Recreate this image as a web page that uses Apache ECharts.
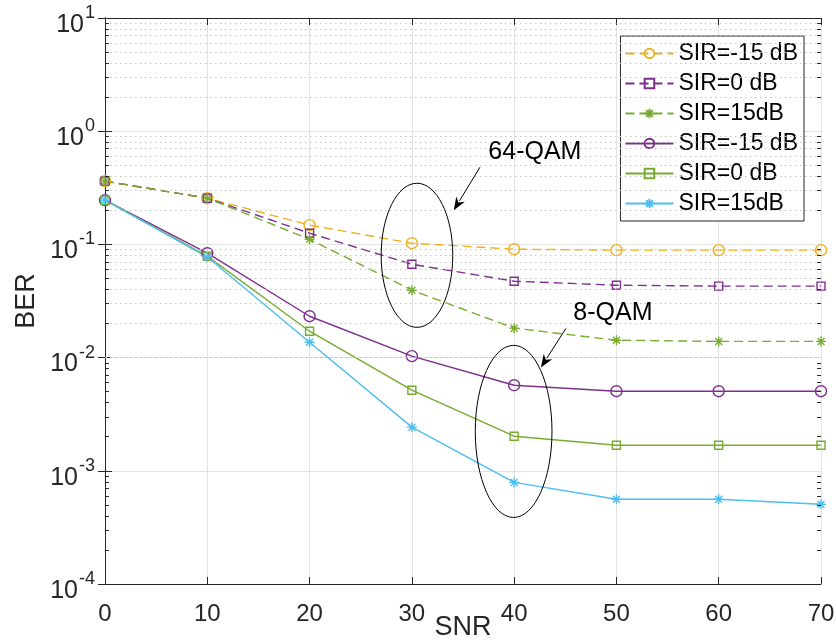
<!DOCTYPE html>
<html>
<head>
<meta charset="utf-8">
<script src="https://cdn.jsdelivr.net/npm/echarts@6/dist/echarts.min.js"></script>
<style>
  html, body { margin: 0; padding: 0; background: #fff; }
  #chart { width: 836px; height: 644px; }
</style>
</head>
<body>
<div id="chart"></div>
<script>
// SNR values (x axis)
var snr = [0, 10, 20, 30, 40, 50, 60, 70];

// 64-QAM (dashed)
var qam64_sirm15 = [0.362, 0.256, 0.148, 0.1025, 0.0907, 0.089, 0.089, 0.089];
var qam64_sir0   = [0.362, 0.256, 0.1256, 0.0668, 0.0473, 0.0436, 0.0428, 0.0428];
var qam64_sir15  = [0.362, 0.256, 0.111, 0.0394, 0.0182, 0.01425, 0.0139, 0.0139];

// 8-QAM (solid)
var qam8_sirm15 = [0.2457, 0.0836, 0.0232, 0.0103, 0.0057, 0.00505, 0.00505, 0.00505];
var qam8_sir0   = [0.2457, 0.0787, 0.0171, 0.00515, 0.00202, 0.00168, 0.00168, 0.00168];
var qam8_sir15  = [0.2457, 0.0773, 0.01368, 0.00243, 0.00079, 0.00056, 0.00056, 0.000507];

var legendNames = ['SIR=-15 dB', 'SIR=0 dB', 'SIR=15dB', 'SIR=-15 dB\u200b', 'SIR=0 dB\u200b', 'SIR=15dB\u200b'];

// annotation positions in data coordinates
var ellipses = [
  { x: [27.0, 34.0], y: [0.0185, 0.347] },
  { x: [36.2, 43.7], y: [0.000387, 0.01283] }
];
var arrows = [
  { from: [36.66, 0.481], to: [34.1, 0.2005] },
  { from: [45.06, 0.0181], to: [42.62, 0.00819] }
];
var notes = [
  { text: '64-QAM', at: [42.03, 0.652] },
  { text: '8-QAM', at: [49.66, 0.02472] }
];

var ORANGE = '#EDB120', PURPLE = '#7E2F8E', GREEN = '#77AC30', CYAN = '#4DBEEE';
var starPath = 'path://M0,5L10,5M5,0L5,10M1.5,1.5L8.5,8.5M8.5,1.5L1.5,8.5';
var FONT = '"Liberation Sans", Arial, sans-serif';

function pairs(ys) {
  return snr.map(function (x, i) { return [x, ys[i]]; });
}

function mkSeries(name, ys, color, symbol, size, dashed) {
  return {
    name: name,
    type: 'line',
    data: pairs(ys),
    symbol: symbol,
    symbolSize: size,
    showSymbol: true,
    lineStyle: { color: color, width: 1.4, type: dashed ? [9, 5] : 'solid' },
    itemStyle: { color: symbol === starPath ? color : 'rgba(0,0,0,0)', borderColor: color, borderWidth: 1.4 },
    emphasis: { disabled: true },
    animation: false
  };
}

// minor (2..9) grid values
var minorVals = [];
for (var d = -4; d <= 0; d++) {
  for (var k = 2; k <= 9; k++) minorVals.push(k * Math.pow(10, d));
}
var minorMarks = [];
minorVals.forEach(function (v) {
  minorMarks.push({ yAxis: v, lineStyle: { type: [1.5, 3.5], color: '#c4c4c4', width: 1 } });
});
var minorTicks = [];
minorVals.forEach(function (v) {
  minorTicks.push([{ coord: [0, v] }, { coord: [0.38, v] }]);
  minorTicks.push([{ coord: [69.62, v] }, { coord: [70, v] }]);
});

var chart = echarts.init(document.getElementById('chart'));

var supFmt = function (v) {
  var e = Math.round(Math.log10(v));
  return '{b|10}{s|' + e + '}';
};

var option = {
  backgroundColor: '#fff',
  animation: false,
  grid: { left: 105, right: 15, top: 18, bottom: 60, containLabel: false, outerBoundsMode: 'none' },
  legend: {
    data: legendNames,
    orient: 'vertical',
    right: 32,
    top: 36,
    backgroundColor: '#fff',
    borderColor: '#262626',
    borderWidth: 1,
    borderRadius: 0,
    padding: [6, 6, 6, 4],
    itemWidth: 48,
    itemHeight: 12,
    itemGap: 7,
    itemTextGap: 12,
    textStyle: { fontFamily: FONT, fontSize: 23, color: '#000' },
    selectedMode: false
  },
  xAxis: [{
    type: 'value',
    min: 0, max: 70, interval: 10,
    name: 'SNR',
    nameLocation: 'middle',
    nameGap: 30,
    nameMoveOverlap: false,
    nameTextStyle: { fontFamily: FONT, fontSize: 27, color: '#262626' },
    axisLine: { lineStyle: { color: '#262626', width: 1 } },
    axisTick: { inside: true, length: 7, lineStyle: { color: '#262626' } },
    axisLabel: { fontFamily: FONT, fontSize: 24, color: '#262626', margin: 18 },
    splitLine: { show: true, lineStyle: { color: '#e3e3e3', width: 1 } }
  }, {
    type: 'value', position: 'top',
    min: 0, max: 70, interval: 10,
    axisLine: { show: true, lineStyle: { color: '#262626', width: 1 } },
    axisTick: { show: true, inside: true, length: 7, lineStyle: { color: '#262626' } },
    axisLabel: { show: false },
    splitLine: { show: false }
  }],
  yAxis: [{
    type: 'log',
    min: 1e-4, max: 10, logBase: 10,
    name: 'BER',
    nameLocation: 'middle',
    nameGap: 65,
    nameMoveOverlap: false,
    nameTextStyle: { fontFamily: FONT, fontSize: 27, color: '#262626' },
    axisLine: { show: true, lineStyle: { color: '#262626', width: 1 } },
    axisTick: { inside: true, length: 7, lineStyle: { color: '#262626' } },
    axisLabel: {
      formatter: supFmt,
      margin: 10,
      padding: [14, 0, 0, 0],
      rich: {
        b: { fontFamily: FONT, fontSize: 25, color: '#262626' },
        s: { fontFamily: FONT, fontSize: 18, color: '#262626', padding: [0, 0, 24, 1] }
      }
    },
    splitLine: { show: true, lineStyle: { color: '#e3e3e3', width: 1 } }
  }, {
    type: 'log', position: 'right',
    min: 1e-4, max: 10, logBase: 10,
    axisLine: { show: true, lineStyle: { color: '#262626', width: 1 } },
    axisTick: { show: true, inside: true, length: 7, lineStyle: { color: '#262626' } },
    axisLabel: { show: false },
    splitLine: { show: false }
  }],
  series: [
    {
      name: 'grid-minor',
      type: 'line',
      data: [],
      silent: true,
      markLine: {
        silent: true,
        symbol: 'none',
        label: { show: false },
        animation: false,
        data: minorMarks
      }
    },
    {
      name: 'ticks-minor',
      type: 'line',
      data: [],
      silent: true,
      markLine: {
        silent: true,
        symbol: 'none',
        label: { show: false },
        animation: false,
        lineStyle: { type: 'solid', color: '#262626', width: 1 },
        data: minorTicks
      }
    },
    mkSeries(legendNames[0], qam64_sirm15, ORANGE, 'circle', 11, true),
    mkSeries(legendNames[1], qam64_sir0, PURPLE, 'rect', 8, true),
    mkSeries(legendNames[2], qam64_sir15, GREEN, starPath, 10, true),
    mkSeries(legendNames[3], qam8_sirm15, PURPLE, 'circle', 11, false),
    mkSeries(legendNames[4], qam8_sir0, GREEN, 'rect', 8, false),
    mkSeries(legendNames[5], qam8_sir15, CYAN, starPath, 10, false)
  ]
};

chart.setOption(option);

// annotations: ellipses, arrows and text placed from data coordinates
var gfx = [];
ellipses.forEach(function (e) {
  var p1 = chart.convertToPixel({ gridIndex: 0 }, [e.x[0], e.y[1]]);
  var p2 = chart.convertToPixel({ gridIndex: 0 }, [e.x[1], e.y[0]]);
  gfx.push({
    type: 'ellipse',
    shape: { cx: (p1[0] + p2[0]) / 2, cy: (p1[1] + p2[1]) / 2, rx: Math.abs(p2[0] - p1[0]) / 2, ry: Math.abs(p2[1] - p1[1]) / 2 },
    style: { fill: 'none', stroke: '#000', lineWidth: 1 },
    z: 100, silent: true
  });
});
arrows.forEach(function (a) {
  var f = chart.convertToPixel({ gridIndex: 0 }, a.from);
  var t = chart.convertToPixel({ gridIndex: 0 }, a.to);
  var dx = t[0] - f[0], dy = t[1] - f[1];
  var len = Math.sqrt(dx * dx + dy * dy);
  var ux = dx / len, uy = dy / len;
  var hl = 13, hw = 5;
  var bx = t[0] - ux * hl, by = t[1] - uy * hl;
  gfx.push({
    type: 'line',
    shape: { x1: f[0], y1: f[1], x2: bx + ux * 2, y2: by + uy * 2 },
    style: { stroke: '#000', lineWidth: 1 },
    z: 100, silent: true
  });
  gfx.push({
    type: 'polygon',
    shape: { points: [t, [bx - uy * hw, by + ux * hw], [t[0] - ux * (hl - 4), t[1] - uy * (hl - 4)], [bx + uy * hw, by - ux * hw]] },
    style: { fill: '#000' },
    z: 100, silent: true
  });
});
notes.forEach(function (n) {
  var p = chart.convertToPixel({ gridIndex: 0 }, n.at);
  gfx.push({
    type: 'text',
    x: p[0], y: p[1],
    style: { text: n.text, fontFamily: FONT, fontSize: 25, fill: '#000', align: 'center', verticalAlign: 'middle' },
    z: 100, silent: true
  });
});
chart.setOption({ graphic: gfx });
</script>
</body>
</html>
